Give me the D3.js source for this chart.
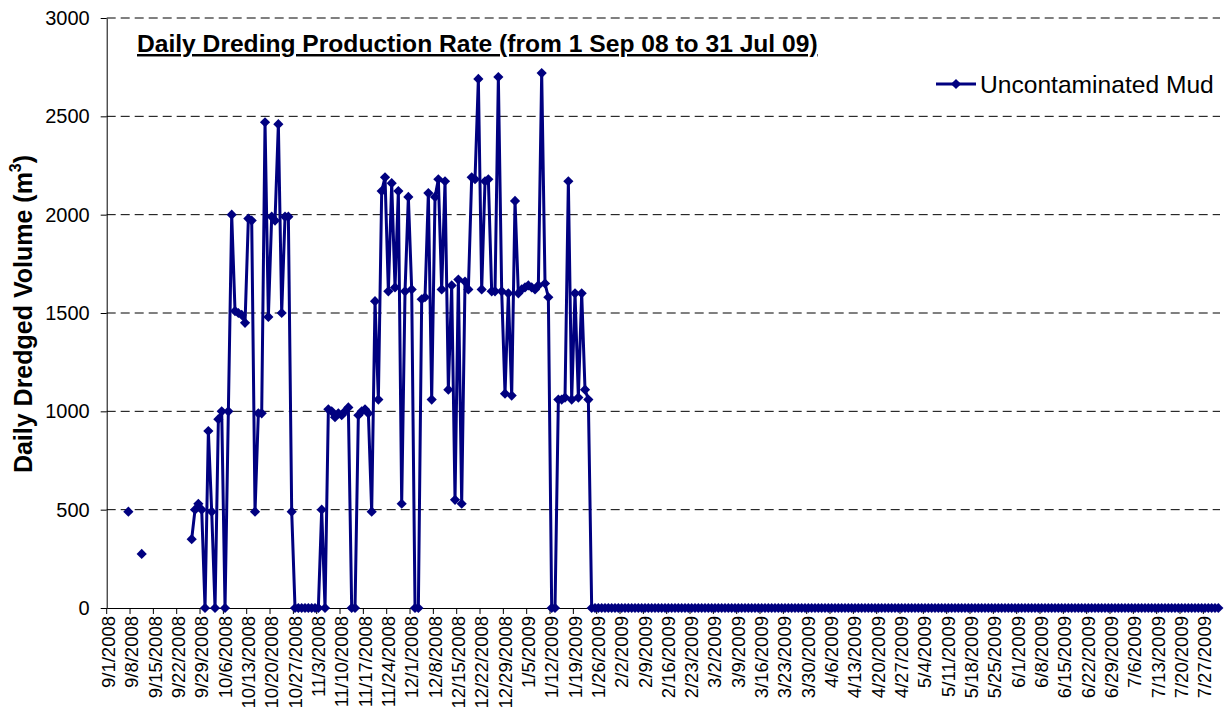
<!DOCTYPE html>
<html><head><meta charset="utf-8">
<script src="https://cdn.jsdelivr.net/npm/d3@7"></script>
<style>body{margin:0;background:#fff}svg{display:block}</style>
</head><body>
<svg id="chart" width="1226" height="711"></svg>
<script>
// ---------- data ----------
const startDate = "2008-09-01";
const sep08 = [null,null,null,null,null,null,490,null,null,null,275,null,null,null,null,null,null,null,null,null,null,null,null,null,null,350,500,530,500,0];
const oct08 = [900,490,0,960,1000,0,1000,2000,1510,1500,1490,1450,1980,1970,490,990,990,2470,1480,1990,1970,2460,1500,1990,1990,490,0,0,0,0,0];
const nov08 = [0,0,0,500,0,1010,1000,970,990,980,1000,1020,0,0,980,1000,1010,990,490,1560,1060,2120,2190,1610,2160,1630,2120,530,1610,2090];
const dec08 = [1620,0,0,1570,1580,2110,1060,2090,2180,1620,2170,1110,1640,550,1670,530,1660,1620,2190,2180,2690,1620,2170,2180,1610,1610,2700,1610,1090,1600,1080];
const jan09 = [2070,1600,1620,1630,1640,1630,1620,1640,2720,1650,1580,0,0,1060,1060,1070,2170,1060,1600,1070,1600,1110,1060,0,0,0,0,0,0,0,0];
const feb09 = [0,0,0,0,0,0,0,0,0,0,0,0,0,0,0,0,0,0,0,0,0,0,0,0,0,0,0,0];
const mar09 = [0,0,0,0,0,0,0,0,0,0,0,0,0,0,0,0,0,0,0,0,0,0,0,0,0,0,0,0,0,0,0];
const apr09 = [0,0,0,0,0,0,0,0,0,0,0,0,0,0,0,0,0,0,0,0,0,0,0,0,0,0,0,0,0,0];
const may09 = [0,0,0,0,0,0,0,0,0,0,0,0,0,0,0,0,0,0,0,0,0,0,0,0,0,0,0,0,0,0,0];
const jun09 = [0,0,0,0,0,0,0,0,0,0,0,0,0,0,0,0,0,0,0,0,0,0,0,0,0,0,0,0,0,0];
const jul09 = [0,0,0,0,0,0,0,0,0,0,0,0,0,0,0,0,0,0,0,0,0,0,0,0,0,0,0,0,0,0,0];
const yTicks = [0,500,1000,1500,2000,2500,3000];
const seriesName = "Uncontaminated Mud";
const chartTitle = "Daily Dreding Production Rate (from 1 Sep 08 to 31 Jul 09)";
const yTitleMain = "Daily Dredged Volume (m";
const yTitleSup = "3";
const labelEvery = 7;

// ---------- build ----------
const values = [].concat(sep08, oct08, nov08, dec08, jan09, feb09, mar09, apr09, may09, jun09, jul09);
const t0 = d3.timeParse("%Y-%m-%d")(startDate);
const fmt = d3.timeFormat("%-m/%-d/%Y");
const data = values.map((v, i) => ({ cat: fmt(d3.timeDay.offset(t0, i)), v }));

const svg = d3.select("#chart");
const L = 106.7, R = 1220, T = 18, B = 608;
const navy = "#000080";
const FONT = "Liberation Sans, Arial, sans-serif";

const x = d3.scaleBand().domain(data.map(d => d.cat)).range([L, R]).padding(0);
const y = d3.scaleLinear().domain([0, 3000]).range([B, T]);
const cx = d => x(d.cat) + x.bandwidth() / 2;

// gridlines
svg.append("g").selectAll("line").data(yTicks.filter(t => t > 0)).join("line")
  .attr("x1", L).attr("x2", R).attr("y1", d => y(d)).attr("y2", d => y(d))
  .attr("stroke", "#000").attr("stroke-width", 1).attr("stroke-dasharray", "9,5");

// y axis
const yAxis = svg.append("g").attr("transform", `translate(${L},0)`)
  .call(d3.axisLeft(y).tickValues(yTicks).tickFormat(d3.format("d")).tickSize(6).tickPadding(11).tickSizeOuter(0));
yAxis.select(".domain").attr("stroke", "#000");
yAxis.selectAll("text").attr("font-family", FONT).attr("font-size", 20).attr("fill", "#000");

// x axis: labels at category centres, ticks at category boundaries
const labelCats = data.filter((d, i) => i % labelEvery === 0).map(d => d.cat);
const xAxis = svg.append("g").attr("transform", `translate(0,${B})`)
  .call(d3.axisBottom(x).tickValues(labelCats).tickSize(0).tickSizeOuter(0));
xAxis.select(".domain").attr("stroke", "#000");
xAxis.selectAll("text")
  .attr("font-family", FONT).attr("font-size", 18.5).attr("fill", "#000")
  .attr("text-anchor", "end").attr("transform", "rotate(-90)")
  .attr("x", -8).attr("y", 0).attr("dy", "0.35em");
svg.append("g").selectAll("line").data(labelCats).join("line")
  .attr("x1", d => x(d)).attr("x2", d => x(d)).attr("y1", B).attr("y2", B + 6)
  .attr("stroke", "#000");

// series line
const line = d3.line().defined(d => d.v !== null).x(cx).y(d => y(d.v));
svg.append("path").datum(data).attr("d", line)
  .attr("fill", "none").attr("stroke", navy).attr("stroke-width", 3).attr("stroke-linejoin", "round");

// markers
const diamond = d3.symbol().type(d3.symbolSquare).size(52);
svg.append("g").selectAll("path").data(data.filter(d => d.v !== null)).join("path")
  .attr("d", diamond)
  .attr("transform", d => `translate(${cx(d)},${y(d.v)}) rotate(45)`)
  .attr("fill", navy);

// title
svg.append("text").attr("x", 137).attr("y", 52)
  .attr("font-family", FONT).attr("font-size", 24.6).attr("font-weight", "bold")
  .attr("text-decoration", "underline").attr("fill", "#000").text(chartTitle);

// y title
const yt = svg.append("text").attr("transform", "translate(32,314) rotate(-90)")
  .attr("text-anchor", "middle")
  .attr("font-family", FONT).attr("font-size", 25).attr("font-weight", "bold").attr("fill", "#000");
yt.append("tspan").text(yTitleMain);
yt.append("tspan").attr("dy", -11).attr("font-size", 16).text(yTitleSup);
yt.append("tspan").attr("dy", 11).text(")");

// legend
const lg = svg.append("g").attr("transform", "translate(936,84)");
lg.append("line").attr("x1", 0).attr("x2", 40).attr("stroke", navy).attr("stroke-width", 3);
lg.append("path").attr("d", diamond).attr("transform", "translate(20,0) rotate(45)").attr("fill", navy);
lg.append("text").attr("x", 44).attr("y", 0).attr("dy", "0.36em")
  .attr("font-family", FONT).attr("font-size", 24.6).attr("fill", "#000").text(seriesName);
</script>
</body></html>
